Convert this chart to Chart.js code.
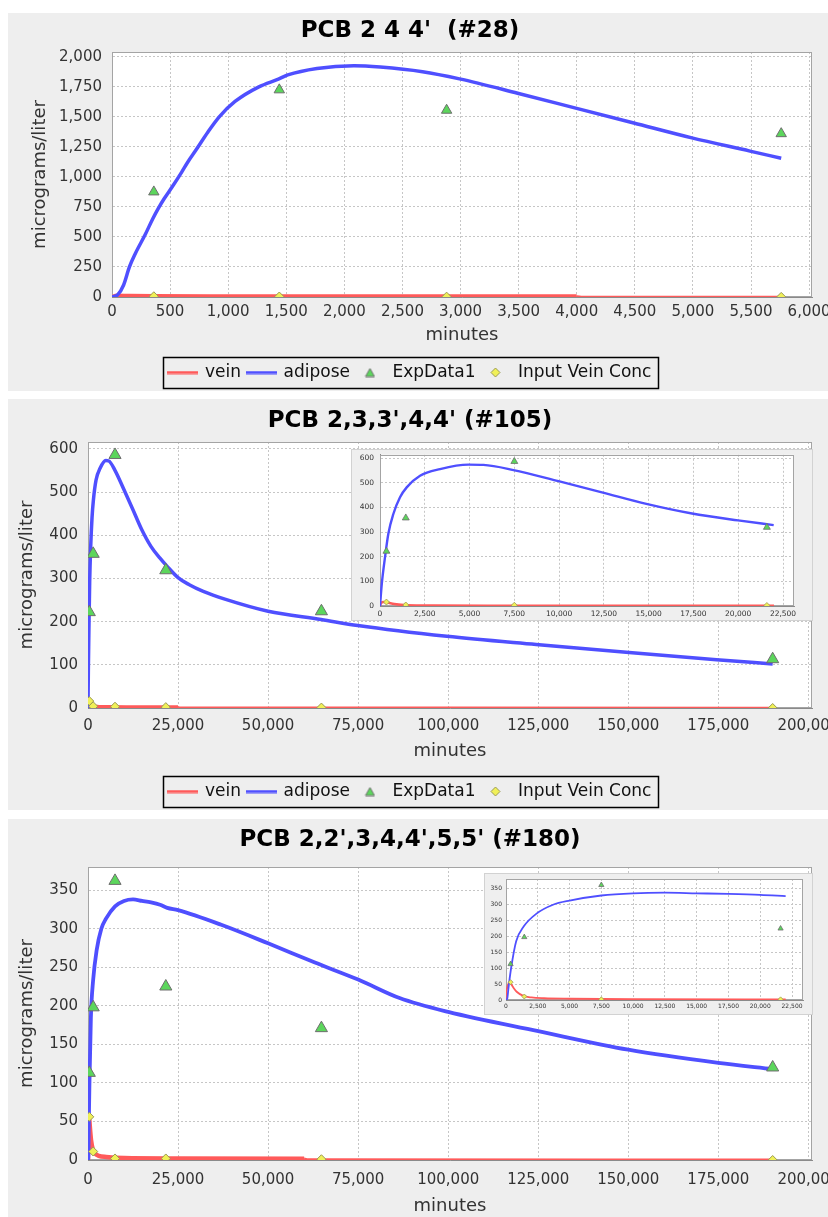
<!DOCTYPE html>
<html><head><meta charset="utf-8">
<script src="https://cdn.jsdelivr.net/npm/chart.js@4.4.1/dist/chart.umd.min.js"></script>
<style>
html,body{margin:0;padding:0;background:#fff;}
body{width:828px;height:1217px;position:relative;overflow:hidden;}
.panel{position:absolute;left:8px;width:820px;background:#eeeeee;}
.panel canvas,.inset canvas{display:block;}
.inset{position:absolute;background:#efefef;outline:1px solid #d2d2d2;}
</style></head><body>
<div class="panel" style="top:13px;height:378px"><canvas id="c1" width="820" height="378"></canvas></div>
<div class="panel" style="top:399px;height:411px"><canvas id="c2" width="820" height="411"></canvas></div>
<div class="panel" style="top:819px;height:398px"><canvas id="c3" width="820" height="398"></canvas></div>
<div class="inset" style="left:352px;top:450px;width:460px;height:170px"><canvas id="i2" width="460" height="170"></canvas></div>
<div class="inset" style="left:485px;top:874px;width:327px;height:140px"><canvas id="i3" width="327" height="140"></canvas></div>
<script>
// ---------- DATA ----------
const SERIES_NAMES = ['vein', 'adipose', 'ExpData1', 'Input Vein Conc'];
const TITLES = ["PCB 2 4 4'  (#28)", "PCB 2,3,3',4,4' (#105)", "PCB 2,2',3,4,4',5,5' (#180)"];
const X_TITLE = 'minutes';
const Y_TITLE = 'micrograms/liter';

// Panel 1 (#28)
const P1_SAMPLE_X = [360, 1440, 2880, 5760];
const P1_EXP_Y = [875, 1725, 1555, 1360];
const P1_INPUT_Y = [6, 4, 3, 1];
const P1_ADIPOSE_X = [0, 50, 100, 150, 200, 286, 350, 400, 450, 520, 600, 650, 727, 823, 923, 1059, 1264, 1432, 1513, 1764, 2082, 2309, 2673, 2991, 3491, 3991, 4491, 4991, 5491, 5760];
const P1_ADIPOSE_Y = [0, 20, 100, 250, 360, 520, 650, 740, 820, 920, 1040, 1120, 1230, 1370, 1500, 1628, 1750, 1814, 1849, 1903, 1926, 1915, 1876, 1816, 1697, 1573, 1449, 1325, 1215, 1155];
const P1_VEIN_X = [0, 40, 150, 360, 1000, 2000, 3000, 4000, 4050, 5000, 5760];
const P1_VEIN_Y = [0, 10, 8, 6, 5, 4.5, 4, 4, 1, 1, 1];
const P1_VEIN_DENSE_UNTIL = 4000;
const P1_X_TICKS = [0, 500, 1000, 1500, 2000, 2500, 3000, 3500, 4000, 4500, 5000, 5500, 6000];
const P1_Y_TICKS = [0, 250, 500, 750, 1000, 1250, 1500, 1750, 2000];

// Panel 2 (#105)
const P2_SAMPLE_X = [360, 1440, 7500, 21600, 64800, 190080];
const P2_EXP_Y = [222, 357, 586, 319, 224, 113];
const P2_INPUT_Y = [16, 4, 3, 2, 1, 0];
const P2_ADIPOSE_X = [0, 100, 280, 466, 745, 1118, 1490, 2235, 3353, 4937, 5775, 7452, 9967, 12390, 14870, 17420, 19990, 21980, 25000, 28000, 32000, 38000, 50000, 64700, 74900, 99600, 124400, 149400, 174500, 190080];
const P2_ADIPOSE_Y = [0, 90, 198, 293, 373, 441, 481, 528, 555, 573, 572, 551, 506, 461, 414, 375, 347, 328, 302, 286, 270, 252, 224, 205, 191, 166, 147, 129, 112, 102];
const P2_VEIN_X = [0, 60, 200, 400, 800, 1500, 3000, 6000, 12000, 22000, 25000, 26000, 100000, 190080];
const P2_VEIN_Y = [0, 12, 16, 14, 8, 3, 2, 1.5, 1.2, 1, 1, 0.5, 0.3, 0.2];
const P2_VEIN_DENSE_UNTIL = 25000;
const P2_Y_TICKS = [0, 100, 200, 300, 400, 500, 600];

// Panel 3 (#180)
const P3_SAMPLE_X = [360, 1440, 7500, 21600, 64800, 190080];
const P3_EXP_Y = [113, 198, 362, 225, 171, 120];
const P3_INPUT_Y = [56, 11, 2, 2, 1, 0];
const P3_ADIPOSE_X = [0, 100, 200, 400, 800, 1400, 2400, 3700, 5000, 7500, 10000, 12500, 15000, 17500, 20000, 22000, 25000, 37000, 50000, 63000, 75000, 86500, 100000, 125000, 150000, 175000, 190080];
const P3_ADIPOSE_Y = [0, 5, 40, 100, 185, 232, 272, 300, 313, 329, 336, 338, 336, 334, 331, 327, 324, 305, 281, 256, 234, 210, 192, 167, 143, 126, 118];
const P3_VEIN_X = [0, 30, 100, 200, 262, 400, 600, 840, 1365, 2000, 3000, 5040, 10000, 22000, 60000, 61000, 190080];
const P3_VEIN_Y = [0, 25, 40, 52, 55, 50, 38, 26, 13, 8, 5.5, 4, 2.5, 2, 1.5, 0.5, 0.3];
const P3_VEIN_DENSE_UNTIL = 60000;
const P3_Y_TICKS = [0, 50, 100, 150, 200, 250, 300, 350];

// shared long-time axis and inset axes
const LONG_X_TICKS = [0, 25000, 50000, 75000, 100000, 125000, 150000, 175000, 200000];
const INSET_X_TICKS = [0, 2500, 5000, 7500, 10000, 12500, 15000, 17500, 20000, 22500];
const INSET_X_LIMIT = 22000;

// ---------- STYLE ----------
const FONT = '"DejaVu Sans", "Liberation Sans", sans-serif';
const RED = '#ff5a5a', BLUE = '#4f4fff';
const TRI_FILL = '#5cd65c', TRI_EDGE = '#6e6e6e';
const DIA_FILL = '#f0f058', DIA_EDGE = '#9a9a55';
const GRID = '#c6c6c6', AXIS = '#8a8a8a', TXT = '#333';
Chart.defaults.font.family = FONT;

function pts(X, Y) { return X.map((x, i) => ({x: x, y: Y[i]})); }
function upTo(arr, m) { return arr.filter(p => p.x <= m); }
const fmt = v => Number(v).toLocaleString('en-US');
const setTicks = list => (s => { s.ticks = list.map(v => ({value: v})); });

// legend symbols
function symLine(color) { const c = document.createElement('canvas'); c.width = 31; c.height = 4; const g = c.getContext('2d'); g.strokeStyle = color; g.lineWidth = 3; g.beginPath(); g.moveTo(0, 2); g.lineTo(31, 2); g.stroke(); return c; }
function symTri() { const c = document.createElement('canvas'); c.width = 11; c.height = 10; const g = c.getContext('2d'); g.fillStyle = TRI_FILL; g.strokeStyle = TRI_EDGE; g.lineWidth = 1; g.beginPath(); g.moveTo(5.5, 1); g.lineTo(10, 9); g.lineTo(1, 9); g.closePath(); g.fill(); g.stroke(); return c; }
function symDia() { const c = document.createElement('canvas'); c.width = 11; c.height = 11; const g = c.getContext('2d'); g.fillStyle = DIA_FILL; g.strokeStyle = DIA_EDGE; g.lineWidth = 1; g.beginPath(); g.moveTo(5.5, 1); g.lineTo(10, 5.5); g.lineTo(5.5, 10); g.lineTo(1, 5.5); g.closePath(); g.fill(); g.stroke(); return c; }
const LEGEND_SYMBOLS = [symLine(RED), symLine(BLUE), symTri(), symDia()];

const plotFrame = {
  id: 'plotFrame',
  beforeDraw(chart) { const a = chart.chartArea, c = chart.ctx; c.save(); c.fillStyle = '#fff'; c.fillRect(a.left, a.top, a.right - a.left, a.bottom - a.top); c.restore(); },
  beforeDatasetsDraw(chart) { const a = chart.chartArea, c = chart.ctx; c.save(); c.strokeStyle = '#a4a4a4'; c.lineWidth = 1; c.strokeRect(Math.round(a.left) + 0.5, Math.round(a.top) + 0.5, Math.round(a.right - a.left) - 1, Math.round(a.bottom - a.top) - 1); c.restore(); }
};
const legendBox = {
  id: 'legendBox',
  afterDraw(chart) {
    const lg = chart.legend; if (!lg || !lg.options.display || !lg.legendHitBoxes || !lg.legendHitBoxes.length) return;
    let l = Infinity, r = -Infinity, t = Infinity, b = -Infinity;
    lg.legendHitBoxes.forEach(h => { l = Math.min(l, h.left); r = Math.max(r, h.left + h.width); t = Math.min(t, h.top); b = Math.max(b, h.top + h.height); });
    const c = chart.ctx; c.save(); c.strokeStyle = '#000'; c.lineWidth = 1.5;
    c.strokeRect(Math.round(l - 6) + 0.5, Math.round(t - 7) + 0.5, Math.round(r - l + 12), Math.round(b - t + 14)); c.restore();
  }
};

function buildMain(id, o) {
  const datasets = [
    {label: SERIES_NAMES[0], data: pts(o.veinX, o.veinY), borderColor: RED, backgroundColor: RED, borderWidth: 4, pointRadius: 0, cubicInterpolationMode: 'monotone', order: 3,
      segment: {borderWidth: c => (c.p0.parsed.x < o.veinDense ? 4.5 : 2.5)}},
    {label: SERIES_NAMES[1], data: pts(o.adX, o.adY), borderColor: BLUE, backgroundColor: BLUE, borderWidth: o.adW, pointRadius: 0, cubicInterpolationMode: 'monotone', order: 2},
    {label: SERIES_NAMES[2], data: pts(o.sx, o.exp), showLine: false, pointStyle: 'triangle', pointRadius: o.triR, backgroundColor: TRI_FILL, borderColor: TRI_EDGE, borderWidth: 1, order: 1},
    {label: SERIES_NAMES[3], data: pts(o.sx, o.inp), showLine: false, pointStyle: 'rectRot', pointRadius: o.diaR, backgroundColor: DIA_FILL, borderColor: DIA_EDGE, borderWidth: 1, order: 0}
  ];
  const legend = o.legend ? {
    display: true, position: 'bottom', align: 'center',
    labels: {usePointStyle: true, pointStyleWidth: 28, padding: 6, color: '#111', font: {family: FONT, size: 17},
      generateLabels: chart => chart.data.datasets.map((ds, i) => ({text: ds.label, pointStyle: LEGEND_SYMBOLS[i], datasetIndex: i, hidden: false, lineWidth: 0, fillStyle: 'rgba(0,0,0,0)', strokeStyle: 'rgba(0,0,0,0)', fontColor: '#111'}))}
  } : {display: false};
  return new Chart(document.getElementById(id), {
    type: 'line',
    data: {datasets},
    plugins: [plotFrame, legendBox],
    options: {
      responsive: false, animation: false, devicePixelRatio: 1, events: [],
      layout: {padding: {left: 0, right: 16, top: 0, bottom: 0}},
      plugins: {
        title: {display: true, text: o.title, color: '#000', font: {family: FONT, size: 23, weight: 'bold', lineHeight: 1.2}, padding: {top: o.tTop, bottom: o.tBottom}},
        legend: legend,
        tooltip: {enabled: false}
      },
      scales: {
        x: {type: 'linear', min: 0, max: o.xMax, bounds: 'data', afterBuildTicks: setTicks(o.xTicks),
          ticks: {autoSkip: false, maxRotation: 0, padding: o.xTickPad, color: TXT, font: {family: FONT, size: 15}, callback: fmt},
          grid: {color: GRID, lineWidth: 1, drawTicks: false},
          border: {display: true, color: AXIS, dash: [2, 2]},
          title: {display: true, text: X_TITLE, color: TXT, font: {family: FONT, size: 18}, padding: {top: 0, bottom: o.xTitlePad}},
          afterFit: s => { s.height = o.xH; s.paddingLeft = 0; s.paddingRight = 0; s.paddingTop = 0; s.paddingBottom = 0; }},
        y: {type: 'linear', min: 0, max: o.yMax, bounds: 'data', afterBuildTicks: setTicks(o.yTicks),
          ticks: {autoSkip: false, padding: 10, color: TXT, font: {family: FONT, size: 15}, callback: fmt},
          grid: {color: GRID, lineWidth: 1, drawTicks: false},
          border: {display: true, color: AXIS, dash: [2, 2]},
          title: {display: true, text: Y_TITLE, color: TXT, font: {family: FONT, size: 18}, padding: {top: o.yTitlePad, bottom: 0}},
          afterFit: s => { s.width = o.yW; s.paddingLeft = 0; s.paddingRight = 0; s.paddingTop = 0; s.paddingBottom = 0; }}
      }
    }
  });
}

function buildInset(id, o) {
  const lim = INSET_X_LIMIT;
  const datasets = [
    {label: SERIES_NAMES[0], data: upTo(pts(o.veinX, o.veinY), lim), borderColor: RED, borderWidth: o.lw, pointRadius: 0, cubicInterpolationMode: 'monotone', order: 3},
    {label: SERIES_NAMES[1], data: upTo(pts(o.adX, o.adY), lim), borderColor: BLUE, borderWidth: o.lw, pointRadius: 0, cubicInterpolationMode: 'monotone', order: 2},
    {label: SERIES_NAMES[2], data: upTo(pts(o.sx, o.exp), lim), showLine: false, pointStyle: 'triangle', pointRadius: o.triR, backgroundColor: TRI_FILL, borderColor: TRI_EDGE, borderWidth: 0.8, order: 1},
    {label: SERIES_NAMES[3], data: upTo(pts(o.sx, o.inp), lim), showLine: false, pointStyle: 'rectRot', pointRadius: o.diaR, backgroundColor: DIA_FILL, borderColor: DIA_EDGE, borderWidth: 0.8, order: 0}
  ];
  return new Chart(document.getElementById(id), {
    type: 'line',
    data: {datasets},
    plugins: [plotFrame],
    options: {
      responsive: false, animation: false, devicePixelRatio: 1, events: [],
      layout: {padding: {left: 0, right: o.padR, top: o.padT, bottom: 0}},
      plugins: {title: {display: false}, legend: {display: false}, tooltip: {enabled: false}},
      scales: {
        x: {type: 'linear', min: 0, max: o.xMax, bounds: 'data', afterBuildTicks: setTicks(INSET_X_TICKS),
          ticks: {autoSkip: false, maxRotation: 0, padding: o.xTickPad, color: TXT, font: {family: FONT, size: o.fs}, callback: fmt},
          grid: {color: GRID, lineWidth: 1, drawTicks: false},
          border: {display: true, color: AXIS, dash: [2, 2]},
          afterFit: s => { s.height = o.xH; s.paddingLeft = 0; s.paddingRight = 0; s.paddingTop = 0; s.paddingBottom = 0; }},
        y: {type: 'linear', min: 0, max: o.yMax, bounds: 'data', afterBuildTicks: setTicks(o.yTicks),
          ticks: {autoSkip: false, padding: o.yTickPad, color: TXT, font: {family: FONT, size: o.fs}, callback: fmt},
          grid: {color: GRID, lineWidth: 1, drawTicks: false},
          border: {display: true, color: AXIS, dash: [2, 2]},
          afterFit: s => { s.width = o.yW; s.paddingLeft = 0; s.paddingRight = 0; s.paddingTop = 0; s.paddingBottom = 0; }}
      }
    }
  });
}

buildMain('c1', {title: TITLES[0], veinX: P1_VEIN_X, veinY: P1_VEIN_Y, veinDense: P1_VEIN_DENSE_UNTIL, adX: P1_ADIPOSE_X, adY: P1_ADIPOSE_Y, sx: P1_SAMPLE_X, exp: P1_EXP_Y, inp: P1_INPUT_Y,
  adW: 3.5, triR: 6, diaR: 4.5, legend: true, tTop: 4.2, tBottom: 7.2, xTicks: P1_X_TICKS, yTicks: P1_Y_TICKS,
  xMax: 6025, yMax: 2040, xH: 61, xTickPad: 5.7, xTitlePad: 11.5, yW: 104, yTitlePad: 22});

buildMain('c2', {title: TITLES[1], veinX: P2_VEIN_X, veinY: P2_VEIN_Y, veinDense: P2_VEIN_DENSE_UNTIL, adX: P2_ADIPOSE_X, adY: P2_ADIPOSE_Y, sx: P2_SAMPLE_X, exp: P2_EXP_Y, inp: P2_INPUT_Y,
  adW: 3.5, triR: 7, diaR: 4.5, legend: true, tTop: 8.2, tBottom: 7.2, xTicks: LONG_X_TICKS, yTicks: P2_Y_TICKS,
  xMax: 201000, yMax: 616, xH: 69, xTickPad: 9, xTitlePad: 14.5, yW: 80, yTitlePad: 8.5});

buildMain('c3', {title: TITLES[2], veinX: P3_VEIN_X, veinY: P3_VEIN_Y, veinDense: P3_VEIN_DENSE_UNTIL, adX: P3_ADIPOSE_X, adY: P3_ADIPOSE_Y, sx: P3_SAMPLE_X, exp: P3_EXP_Y, inp: P3_INPUT_Y,
  adW: 3.8, triR: 7, diaR: 4.5, legend: false, tTop: 7.2, tBottom: 13.2, xTicks: LONG_X_TICKS, yTicks: P3_Y_TICKS,
  xMax: 201000, yMax: 380, xH: 57, xTickPad: 11, xTitlePad: 0, yW: 80, yTitlePad: 8.5});

buildInset('i2', {veinX: P2_VEIN_X, veinY: P2_VEIN_Y, adX: P2_ADIPOSE_X, adY: P2_ADIPOSE_Y, sx: P2_SAMPLE_X, exp: P2_EXP_Y, inp: P2_INPUT_Y,
  lw: 2.4, triR: 4, diaR: 3, fs: 7.5, padR: 18, padT: 4, xMax: 23114, yMax: 613, yTicks: P2_Y_TICKS, xH: 14, xTickPad: 3.5, yW: 28, yTickPad: 6});

buildInset('i3', {veinX: P3_VEIN_X, veinY: P3_VEIN_Y, adX: P3_ADIPOSE_X, adY: P3_ADIPOSE_Y, sx: P3_SAMPLE_X, exp: P3_EXP_Y, inp: P3_INPUT_Y,
  lw: 1.8, triR: 3, diaR: 2.5, fs: 6, padR: 9, padT: 5, xMax: 23364, yMax: 381, yTicks: P3_Y_TICKS, xH: 14, xTickPad: 3, yW: 21, yTickPad: 4});
</script>
</body></html>
